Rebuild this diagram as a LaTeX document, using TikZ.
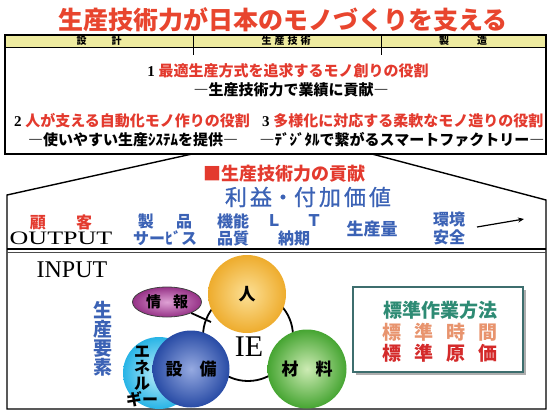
\documentclass[tikz,border=0pt]{standalone}
\usepackage{fontspec}
\usepackage{graphicx}
\setmainfont{Liberation Serif}
\newfontfamily\jp{Noto Sans CJK JP}
\usetikzlibrary{shapes.geometric,arrows.meta,shadows}
\definecolor{titlered}{HTML}{E8452E}
\definecolor{tred}{HTML}{E33A2E}
\definecolor{tblue}{HTML}{3B62B5}
\definecolor{hdr}{HTML}{EEEBA0}
\definecolor{boxteal}{HTML}{3D6E6E}
\definecolor{steal}{HTML}{2E8B74}
\definecolor{ssalmon}{HTML}{E8946E}
\definecolor{sred}{HTML}{D42A2A}
\newcommand\fsz[1]{\fontsize{#1}{#1}\selectfont}
\begin{document}
\begin{tikzpicture}[x=1pt,y=-1pt,
  txt/.style={inner sep=0pt, outer sep=0pt},
  colitem/.style={txt, text=tblue, font=\jp\bfseries\fsz{16}},
  ball/.style={circle, minimum size=#1, inner sep=0pt, font=\jp\bfseries\fsz{17}},
  boxline/.style={line width=1.4pt, black},
  ringline/.style={line width=1.8pt, black}]
\useasboundingbox (0,0) rectangle (549,416);

% title
\node[txt, text=titlered, font=\jp\bfseries\fsz{25}] (title) at (283,20) {生産技術力が日本のモノづくりを支える};

% top box
\fill[hdr] (5,35) rectangle (546,47);
\draw[boxline] (5,35) rectangle (546,154);
\draw[line width=0.6pt] (5,47) -- (546,47);
\draw[line width=0.8pt] (193,35) -- (193,55);
\draw[line width=0.8pt] (381,35) -- (381,55);
\node[txt, font=\jp\bfseries\fsz{10}] (hd1) at (99,41) {設\hspace{2.5em}計};
\node[txt, font=\jp\bfseries\fsz{10}] (hd2) at (286,41) {生\hspace{0.3em}産\hspace{0.3em}技\hspace{0.3em}術};
\node[txt, font=\jp\bfseries\fsz{10}] (hd3) at (463,41) {製\hspace{2.8em}造};

\node[txt, font=\fsz{15}] (r1) at (288,71) {\bfseries 1 \jp\bfseries\color{tred}最適生産方式を追求するモノ創りの役割};
\node[txt, font=\jp\bfseries\fsz{15}] (r2) at (291,90) {―生産技術力で業績に貢献―};
\node[txt, font=\fsz{15}, anchor=west] (r3a) at (14,121) {\bfseries 2 \jp\bfseries\color{tred}人が支える自動化モノ作りの役割};
\node[txt, font=\fsz{15}, anchor=west] (r3b) at (262,121) {\bfseries 3 \jp\bfseries\color{tred}多様化に対応する柔軟なモノ造りの役割};
\node[txt, font=\jp\bfseries\fsz{15}] (r4a) at (133,140) {―使いやすい生産ｼｽﾃﾑを提供―};
\node[txt, font=\jp\bfseries\fsz{15}] (r4b) at (402,140) {―ﾃﾞｼﾞﾀﾙで繋がるスマートファクトリー―};

% roof and lower box
\draw[boxline] (192,154) -- (7,195) -- (7,409) -- (546,409) -- (546,200) -- (372,154);
\draw[line width=2pt] (7,249) -- (546,249);
\draw[line width=0.8pt, black!70] (7,252.5) -- (546,252.5);

\node[txt, text=tred, font=\jp\bfseries\fsz{18}] (kouken) at (284,174) {■生産技術力の貢献};
\node[txt, text=tblue, font=\jp\fsz{22}\addfontfeature{FakeBold=1}] (rieki) at (308,197) {利\hspace{3pt}益・付\hspace{3pt}加\hspace{3pt}価\hspace{3pt}値};

\node[txt, text=tred, font=\jp\bfseries\fsz{16}] (kokyaku) at (61,222) {顧\hspace{1.9em}客};
\node[txt, font=\fsz{19}] (output) at (61,238) {\scalebox{1.37}[1]{OUTPUT}};
\node[colitem] (seihin) at (165,221) {製\hspace{1.4em}品};
\node[colitem] (service) at (165,238) {サーﾋﾞス};
\node[colitem] (kinou) at (233,221) {機能};
\node[colitem] (hinshitsu) at (233,238) {品質};
\node[colitem] (lt) at (294,221) {Ｌ\hspace{1.5em}Ｔ};
\node[colitem] (nouki) at (294,238) {納期};
\node[txt, text=tblue, font=\jp\bfseries\fsz{17}] (seisanryo) at (372,229) {生産量};
\node[colitem] (kankyo) at (449,219) {環境};
\node[colitem] (anzen) at (449,237) {安全};
\coordinate (arrstart) at (477,227);
\coordinate (arrtip) at (524,219);
\draw[line width=1.2pt, -{Stealth[length=6pt,width=5pt]}] (arrstart) -- (arrtip);

% input
\node[txt, font=\fsz{24}] (input) at (72,270) {INPUT};
\node[txt, text=tblue, font=\jp\bfseries\fsz{19}, align=center] (yoso) at (103,339) {\baselineskip=22.5pt 生\\産\\要\\素};

% IE ring
\draw[ringline] (248,336) circle[radius=45pt];
\coordinate (ringjoho) at (211,322);

\node[ellipse, minimum width=69, minimum height=30, inner sep=0pt, draw=black!75, line width=0.8pt,
      inner color={rgb,255:red,222;green,160;blue,212}, outer color={rgb,255:red,150;green,50;blue,135},
      font=\jp\bfseries\fsz{15}] (joho) at (167,302) {情\hspace{0.8em}報};
\draw[ringline] (joho) -- (ringjoho);

\node[ball=78, inner color={rgb,255:red,252;green,224;blue,150}, outer color={rgb,255:red,238;green,172;blue,45}] (hito) at (247,294) {人};
\node[ball=72, inner color={rgb,255:red,190;green,238;blue,250}, outer color={rgb,255:red,40;green,180;blue,230}] (ene) at (159,373) {};
\node[ball=77, inner color={rgb,255:red,150;green,170;blue,225}, outer color={rgb,255:red,40;green,75;blue,165}] (setsubi) at (191,369) {設\hspace{1em}備};
\node[ball=79, inner color={rgb,255:red,205;green,235;blue,180}, outer color={rgb,255:red,70;green,165;blue,50}] (zairyo) at (307,369) {材\hspace{1em}料};
\node[txt, font=\jp\bfseries\fsz{16}, align=center, anchor=north] (enetext) at (142,346) {\baselineskip=19pt エ\\ネ\\ル\\ギー};
\node[txt, font=\fsz{30}] (ie) at (249,347) {IE};

% standard box
\node[draw=boxteal, line width=1.4pt, fill=white, minimum width=170, minimum height=85,
      drop shadow={shadow xshift=2.5pt, shadow yshift=-2.5pt, fill=black!45, opacity=0.7}] (std) at (438,329.5) {};
\node[txt, text=steal, font=\jp\bfseries\fsz{19}] (std1) at (440,310) {標準作業方法};
\node[txt, text=ssalmon, font=\jp\bfseries\fsz{19}] (std2) at (440,332) {標\hspace{0.67em}準\hspace{0.67em}時\hspace{0.67em}間};
\node[txt, text=sred, font=\jp\bfseries\fsz{19}] (std3) at (440,353) {標\hspace{0.67em}準\hspace{0.67em}原\hspace{0.67em}価};
\end{tikzpicture}
\end{document}
